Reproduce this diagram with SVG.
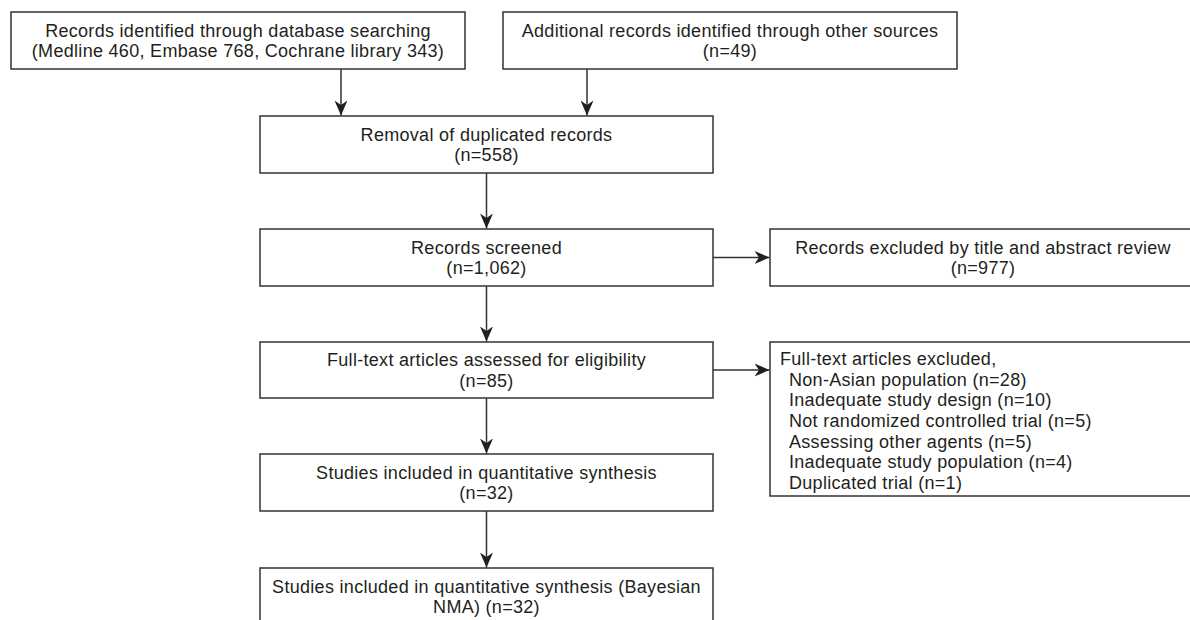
<svg xmlns="http://www.w3.org/2000/svg" width="1190" height="620" viewBox="0 0 1190 620">
<defs>
<style>
.box{fill:#fff;stroke:#333;stroke-width:1.5}
.t{font-family:"Liberation Sans",Arial,Helvetica,sans-serif;font-size:18px;letter-spacing:0.3px;fill:#231f20}
.c{text-anchor:middle}
.ln{stroke:#333;stroke-width:1.5;fill:none;marker-end:url(#ah)}
</style>
<marker id="ah" markerUnits="userSpaceOnUse" markerWidth="16" markerHeight="14" viewBox="-15 -7 16 14" refX="0" refY="0" orient="auto">
<path d="M0,0 L-15,-6.5 L-10.5,0 L-15,6.5 Z" fill="#231f20"/>
</marker>
</defs>
<rect width="1190" height="620" fill="#fff"/>
<g id="connectors">
<line class="ln" x1="341" y1="69" x2="341" y2="115.5"/>
<line class="ln" x1="587" y1="69" x2="587" y2="115.5"/>
<line class="ln" x1="486.5" y1="173" x2="486.5" y2="228.5"/>
<line class="ln" x1="486.5" y1="286" x2="486.5" y2="341.5"/>
<line class="ln" x1="486.5" y1="398" x2="486.5" y2="453.5"/>
<line class="ln" x1="486.5" y1="511" x2="486.5" y2="567.5"/>
<line class="ln" x1="713" y1="257.5" x2="769.5" y2="257.5"/>
<line class="ln" x1="713" y1="370" x2="769.5" y2="370"/>
</g>
<g id="db-search">
<rect class="box" x="11" y="12" width="454" height="57"/>
<text class="t c" x="238" y="36.75">Records identified through database searching</text>
<text class="t c" x="238" y="57.25">(Medline 460, Embase 768, Cochrane library 343)</text>
</g>
<g id="other-sources">
<rect class="box" x="503" y="12" width="454" height="57"/>
<text class="t c" x="730" y="36.75">Additional records identified through other sources</text>
<text class="t c" x="730" y="57.25">(n=49)</text>
</g>
<g id="dedup">
<rect class="box" x="260" y="116" width="453" height="57"/>
<text class="t c" x="486.5" y="140.75">Removal of duplicated records</text>
<text class="t c" x="486.5" y="161.25">(n=558)</text>
</g>
<g id="screened">
<rect class="box" x="260" y="229" width="453" height="57"/>
<text class="t c" x="486.5" y="253.75">Records screened</text>
<text class="t c" x="486.5" y="274.25">(n=1,062)</text>
</g>
<g id="excluded-title">
<rect class="box" x="770" y="229" width="426" height="57"/>
<text class="t c" x="983" y="253.75">Records excluded by title and abstract review</text>
<text class="t c" x="983" y="274.25">(n=977)</text>
</g>
<g id="fulltext">
<rect class="box" x="260" y="342" width="453" height="56"/>
<text class="t c" x="486.5" y="366.25">Full-text articles assessed for eligibility</text>
<text class="t c" x="486.5" y="386.75">(n=85)</text>
</g>
<g id="fulltext-excluded">
<rect class="box" x="770" y="342" width="426" height="154"/>
<text class="t" x="780" y="365">Full-text articles excluded,</text>
<text class="t" x="789" y="385.7">Non-Asian population (n=28)</text>
<text class="t" x="789" y="406.3">Inadequate study design (n=10)</text>
<text class="t" x="789" y="427">Not randomized controlled trial (n=5)</text>
<text class="t" x="789" y="447.7">Assessing other agents (n=5)</text>
<text class="t" x="789" y="468.3">Inadequate study population (n=4)</text>
<text class="t" x="789" y="489">Duplicated trial (n=1)</text>
</g>
<g id="included">
<rect class="box" x="260" y="454" width="453" height="57"/>
<text class="t c" x="486.5" y="478.75">Studies included in quantitative synthesis</text>
<text class="t c" x="486.5" y="499.25">(n=32)</text>
</g>
<g id="included-nma">
<rect class="box" x="260" y="568" width="453" height="57"/>
<text class="t c" x="486.5" y="592.5">Studies included in quantitative synthesis (Bayesian</text>
<text class="t c" x="486.5" y="613">NMA) (n=32)</text>
</g>
</svg>
